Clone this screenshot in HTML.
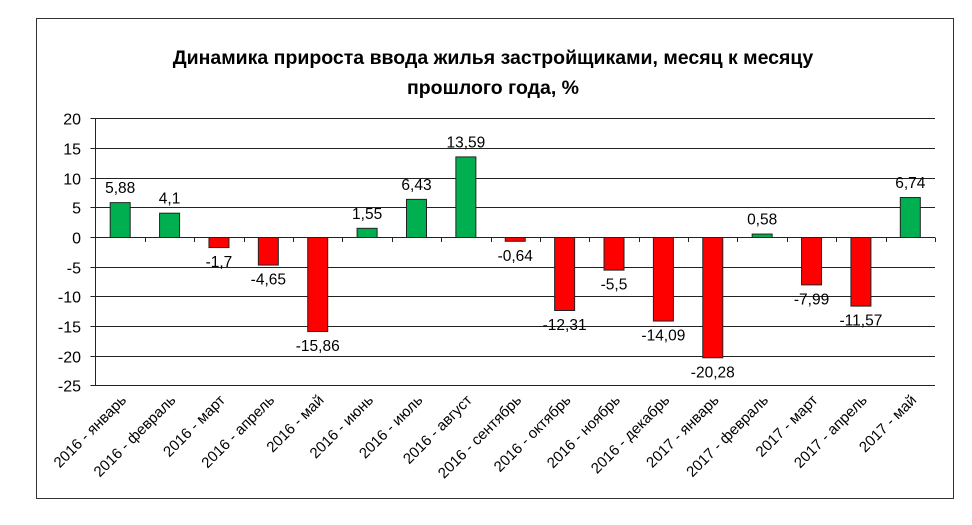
<!DOCTYPE html>
<html><head><meta charset="utf-8"><style>body{margin:0;background:#fff}</style></head><body>
<svg width="972" height="520" xmlns="http://www.w3.org/2000/svg" font-family="'Liberation Sans', sans-serif">
<rect x="0" y="0" width="972" height="520" fill="#fff"/>
<rect x="36.5" y="18.5" width="917" height="480" fill="#fff" stroke="#333" stroke-width="1"/>
<text x="493" y="64" text-anchor="middle" font-size="19.5" font-weight="bold">Динамика прироста ввода жилья застройщиками, месяц к месяцу</text>
<text x="493" y="94" text-anchor="middle" font-size="19.5" font-weight="bold">прошлого года, %</text>
<g id="grid" stroke="#222" stroke-width="1"></g>
<g id="bars"></g>
<g id="lbl" font-size="15.5" text-anchor="middle"></g>
<g id="ax" font-size="16" text-anchor="end"></g>
<g id="cat" font-size="15" text-anchor="end"></g>
</svg>
<script>
const ns="http://www.w3.org/2000/svg";
function el(p,t,a,txt){const e=document.createElementNS(ns,t);for(const k in a)e.setAttribute(k,a[k]);if(txt!==undefined)e.textContent=txt;document.getElementById(p).appendChild(e);}
const y0=237,k=5.93,xl=95.5,xr=935,cw=(xr-xl)/17;
for(let v=20;v>=-25;v-=5){const y=Math.round(y0-v*k)+0.5;el('grid','line',{x1:xl-5,x2:xr,y1:y,y2:y});el('ax','text',{x:81,y:y+6},String(v));}
el('grid','line',{x1:xl,x2:xl,y1:118,y2:385.5});
for(let i=1;i<=17;i++){const x=Math.round(xl+i*cw)+0.5;el('grid','line',{x1:x,x2:x,y1:y0+0.5,y2:y0+5});}
const d=[5.88,4.1,-1.7,-4.65,-15.86,1.55,6.43,13.59,-0.64,-12.31,-5.5,-14.09,-20.28,0.58,-7.99,-11.57,6.74];
const n=['2016 - январь','2016 - февраль','2016 - март','2016 - апрель','2016 - май','2016 - июнь','2016 - июль','2016 - август','2016 - сентябрь','2016 - октябрь','2016 - ноябрь','2016 - декабрь','2017 - январь','2017 - февраль','2017 - март','2017 - апрель','2017 - май'];
d.forEach((v,i)=>{const c=xl+(i+0.5)*cw;const h=Math.abs(v)*k;const top=v>=0?y0-h:y0;
el('bars','rect',{x:c-10,y:top+0.5,width:20,height:h,fill:v>=0?'#00b050':'#ff0000',stroke:'#222','stroke-width':1});
el('lbl','text',{x:c,y:v>=0?top-9:top+h+20},String(v).replace('.',','));
el('cat','text',{x:c+7,y:401,transform:`rotate(-45 ${c+7} 401)`},n[i]);});
</script>
</body></html>
